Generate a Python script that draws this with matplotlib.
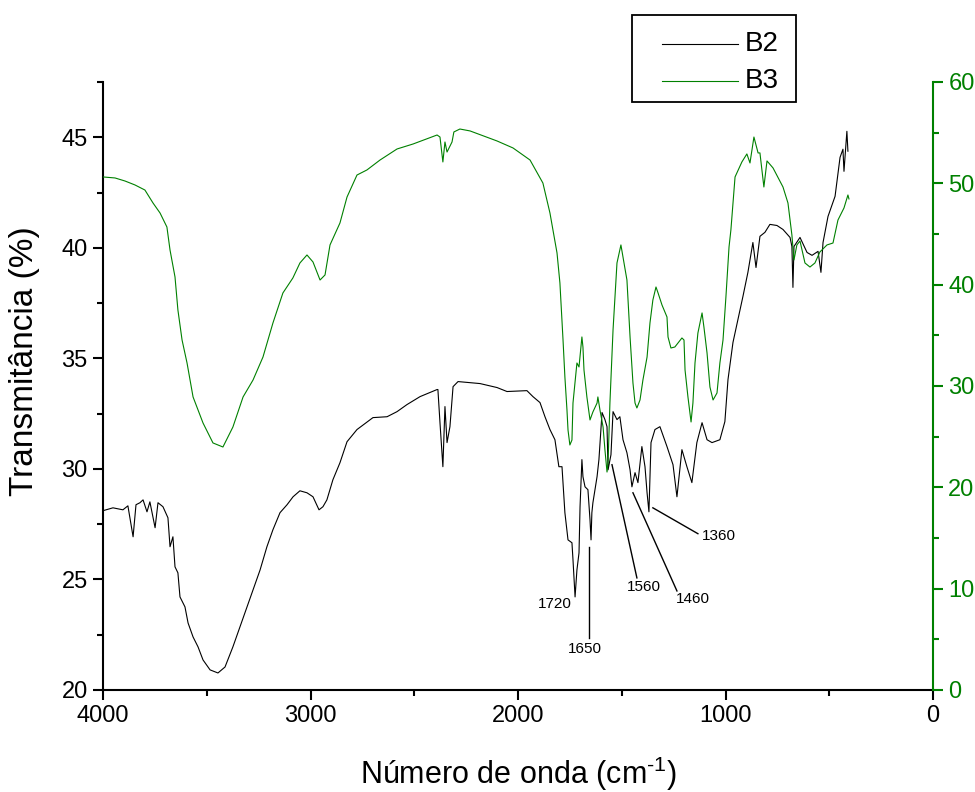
import matplotlib
matplotlib.use("Agg")
import matplotlib.pyplot as plt
from matplotlib.ticker import MultipleLocator
from matplotlib.lines import Line2D
from matplotlib.patches import Rectangle

plt.rcParams['font.family'] = ['Liberation Sans', 'DejaVu Sans']
plt.rcParams['mathtext.fontset'] = 'custom'
plt.rcParams['mathtext.rm'] = 'Liberation Sans'
plt.rcParams['mathtext.default'] = 'regular'

# FTIR spectrum B2 (left axis, transmittance %)
b2_wavenumber = [4000, 3952, 3904, 3880, 3855, 3841, 3822, 3807, 3788, 3774, 3749, 3735,
                 3711, 3687, 3677, 3663, 3653, 3639, 3629, 3605, 3590, 3566, 3542, 3518,
                 3484, 3446, 3412, 3374, 3340, 3306, 3277, 3243, 3210, 3181, 3147, 3113,
                 3084, 3051, 3017, 2988, 2959, 2940, 2921, 2892, 2858, 2824, 2776, 2699,
                 2631, 2583, 2535, 2472, 2390, 2386, 2376, 2362, 2352, 2342, 2328, 2313,
                 2289, 2183, 2101, 2053, 1957, 1928, 1894, 1870, 1846, 1822, 1803, 1788,
                 1774, 1759, 1740, 1735, 1725, 1716, 1706, 1701, 1692, 1687, 1677, 1663,
                 1653, 1648, 1644, 1639, 1619, 1610, 1595, 1581, 1571, 1566, 1552, 1542,
                 1523, 1509, 1494, 1475, 1460, 1451, 1436, 1422, 1403, 1388, 1378, 1369,
                 1359, 1340, 1316, 1282, 1253, 1234, 1210, 1186, 1162, 1138, 1113, 1089,
                 1065, 1027, 1003, 988, 964, 940, 916, 892, 868, 853, 834, 810, 786, 752,
                 723, 689, 680, 675, 670, 641, 607, 583, 554, 540, 530, 506, 472, 448,
                 434, 429, 415, 410]
b2_transmittance = [28.11, 28.24, 28.15, 28.33, 26.93, 28.38, 28.47, 28.60, 28.06, 28.51,
                    27.34, 28.47, 28.29, 27.79, 26.48, 26.93, 25.57, 25.30, 24.21, 23.76,
                    23.03, 22.40, 21.95, 21.36, 20.91, 20.77, 21.04, 21.95, 22.85, 23.76,
                    24.53, 25.43, 26.48, 27.25, 28.02, 28.38, 28.74, 29.01, 28.92, 28.74,
                    28.15, 28.29, 28.60, 29.51, 30.28, 31.23, 31.78, 32.32, 32.36, 32.59,
                    32.91, 33.27, 33.59, 33.59, 32.09, 30.10, 32.82, 31.19, 31.91, 33.72,
                    33.95, 33.86, 33.68, 33.50, 33.54, 33.27, 33.00, 32.36, 31.78, 31.32,
                    30.10, 30.10, 28.02, 26.79, 26.66, 25.89, 24.21, 25.43, 26.20, 28.29,
                    30.42, 29.65, 29.19, 29.06, 27.70, 26.79, 28.02, 28.47, 29.65, 30.42,
                    32.55, 32.23, 31.91, 29.96, 30.64, 32.59, 32.23, 32.36, 31.32, 30.73,
                    29.96, 29.19, 29.83, 29.38, 31.01, 30.10, 28.92, 28.06, 31.19, 31.78,
                    31.91, 31.01, 30.19, 28.74, 30.87, 30.10, 29.38, 31.19, 32.09, 31.32,
                    31.19, 31.32, 32.14, 34.04, 35.72, 36.76, 37.80, 38.89, 40.24, 39.11,
                    40.52, 40.70, 41.06, 41.01, 40.83, 40.47, 40.06, 38.21, 40.06, 40.47,
                    39.79, 39.66, 39.84, 38.89, 40.24, 41.42, 42.33, 44.09, 44.46, 43.46,
                    45.27, 44.37]

# FTIR spectrum B3 (right axis)
b3_wavenumber = [4000, 3942, 3894, 3846, 3798, 3759, 3725, 3692, 3677, 3653, 3639, 3619,
                 3595, 3566, 3518, 3470, 3422, 3374, 3325, 3277, 3229, 3181, 3133, 3085,
                 3051, 3017, 2988, 2954, 2930, 2906, 2858, 2824, 2776, 2728, 2665, 2583,
                 2506, 2390, 2376, 2362, 2352, 2342, 2318, 2309, 2280, 2231, 2101, 2024,
                 1942, 1880, 1846, 1812, 1798, 1783, 1774, 1764, 1759, 1750, 1740, 1735,
                 1721, 1716, 1706, 1692, 1687, 1682, 1668, 1653, 1639, 1619, 1615, 1605,
                 1590, 1581, 1571, 1566, 1557, 1542, 1523, 1504, 1494, 1475, 1460, 1446,
                 1436, 1427, 1412, 1398, 1378, 1364, 1350, 1335, 1325, 1306, 1282, 1277,
                 1263, 1244, 1229, 1210, 1200, 1195, 1181, 1166, 1157, 1147, 1133, 1113,
                 1104, 1089, 1075, 1060, 1041, 1027, 1012, 998, 983, 974, 954, 921, 897,
                 882, 863, 843, 834, 815, 800, 771, 723, 699, 680, 670, 656, 641, 617,
                 593, 569, 545, 511, 482, 458, 429, 410, 405]
b3_transmittance = [50.63, 50.53, 50.23, 49.84, 49.34, 48.06, 47.07, 45.69, 43.42, 40.76,
                    37.50, 34.54, 32.27, 28.92, 26.35, 24.38, 23.98, 25.95, 28.92, 30.59,
                    32.86, 36.22, 39.18, 40.66, 42.14, 42.93, 42.24, 40.46, 40.96, 43.92,
                    46.09, 48.65, 50.82, 51.32, 52.30, 53.39, 53.88, 54.77, 54.57, 52.11,
                    54.08, 53.09, 54.08, 55.07, 55.36, 55.17, 54.18, 53.49, 52.30, 50.03,
                    47.07, 43.13, 40.17, 34.54, 30.89, 27.63, 25.66, 24.18, 24.67, 28.32,
                    31.28, 32.27, 31.88, 34.84, 33.85, 31.58, 28.92, 26.65, 27.44, 28.32,
                    28.92, 27.63, 25.95, 23.69, 21.51, 22.40, 28.32, 35.53, 42.14, 43.92,
                    42.73, 40.46, 34.84, 30.30, 28.32, 27.83, 28.62, 30.59, 32.86, 36.22,
                    38.49, 39.77, 39.18, 37.99, 36.81, 34.84, 33.75, 33.85, 34.24, 34.74,
                    34.54, 31.58, 28.92, 26.45, 28.32, 32.27, 35.23, 37.21, 35.82, 33.26,
                    29.90, 28.62, 29.31, 32.27, 34.54, 38.78, 43.72, 45.40, 50.63, 52.11,
                    52.90, 52.01, 54.57, 53.00, 53.00, 49.64, 52.21, 51.52, 49.64, 48.06,
                    44.90, 42.44, 43.92, 44.31, 42.14, 41.74, 42.14, 43.23, 43.92, 44.11,
                    46.38, 47.57, 48.85, 48.46]

series_names = ['B2', 'B3']

# Band labels on B2: text, text position, leader line (start, end)
band_labels = ["1720", "1650", "1560", "1460", "1360"]
band_text_xy = [(1824, 23.89), (1680, 21.86), (1391, 24.66), (1157, 24.12), (1034, 26.97)]
band_leaders = [None,
                ((1657, 26.48), (1657, 22.36)),
                ((1547, 30.19), (1427, 25.07)),
                ((1446, 28.92), (1234, 24.48)),
                ((1350, 28.24), (1133, 27.07))]

GREEN = '#008000'
W, H = 975, 792

fig = plt.figure(figsize=(W / 100, H / 100), dpi=100)
ax = fig.add_axes([103 / W, 1 - 690 / H, 830 / W, 608 / H])
ax2 = ax.twinx()

ax.plot(b2_wavenumber, b2_transmittance, color='black', lw=0.8)
ax2.plot(b3_wavenumber, b3_transmittance, color=GREEN, lw=0.8)

ax.set_xlim(4000, 0)
ax.set_ylim(20, 47.5)
ax2.set_ylim(0, 60)

ax.xaxis.set_major_locator(MultipleLocator(1000))
ax.xaxis.set_minor_locator(MultipleLocator(500))
ax.yaxis.set_major_locator(MultipleLocator(5))
ax.yaxis.set_minor_locator(MultipleLocator(2.5))
ax2.yaxis.set_major_locator(MultipleLocator(10))
ax2.yaxis.set_minor_locator(MultipleLocator(5))

for a in (ax, ax2):
    a.spines['top'].set_visible(False)
ax.spines['right'].set_visible(False)
ax.spines['left'].set_linewidth(1.5)
ax.spines['bottom'].set_linewidth(1.5)
ax2.spines['left'].set_visible(False)
ax2.spines['bottom'].set_visible(False)
ax2.spines['right'].set_linewidth(1.5)
ax2.spines['right'].set_color(GREEN)

ax.tick_params(axis='both', which='major', direction='out', length=7, width=1.5,
               labelsize=17, pad=4)
ax.tick_params(axis='both', which='minor', direction='out', length=4, width=1.5)
ax2.tick_params(axis='y', which='major', direction='out', length=7, width=1.5,
                labelsize=17, colors=GREEN, pad=4)
ax2.tick_params(axis='y', which='minor', direction='out', length=4, width=1.5,
                colors=GREEN)

ax.set_xlabel(r'Número de onda (cm$^{\text{-}1}$)', fontsize=22, labelpad=20)
ax.set_ylabel('Transmitância (%)', fontsize=24)
ax.yaxis.set_label_coords((40 - 103) / 830, (690 - 361) / 608)

for text, txy, leader in zip(band_labels, band_text_xy, band_leaders):
    ax.text(txy[0], txy[1], text, fontsize=11, ha='center', va='center')
    if leader is not None:
        (x0, y0), (x1, y1) = leader
        ax.plot([x0, x1], [y0, y1], color='black', lw=1.0)

# Legend box, drawn in figure pixel units
def fx(px):
    return px / W

def fy(py):
    return 1 - py / H

fig.patches.append(Rectangle((fx(632), fy(102)), fx(796) - fx(632), fy(15) - fy(102),
                             transform=fig.transFigure, facecolor='white',
                             edgecolor='black', lw=1.3, zorder=5))
for name, color, py in zip(series_names, ['black', GREEN], [44, 81]):
    fig.lines.append(Line2D([fx(662), fx(738)], [fy(py), fy(py)], color=color, lw=0.8,
                            transform=fig.transFigure, zorder=6))
    fig.text(fx(745), fy(py), name, fontsize=20, ha='left', va='center', zorder=6)

fig.savefig('out.png', dpi=100)
